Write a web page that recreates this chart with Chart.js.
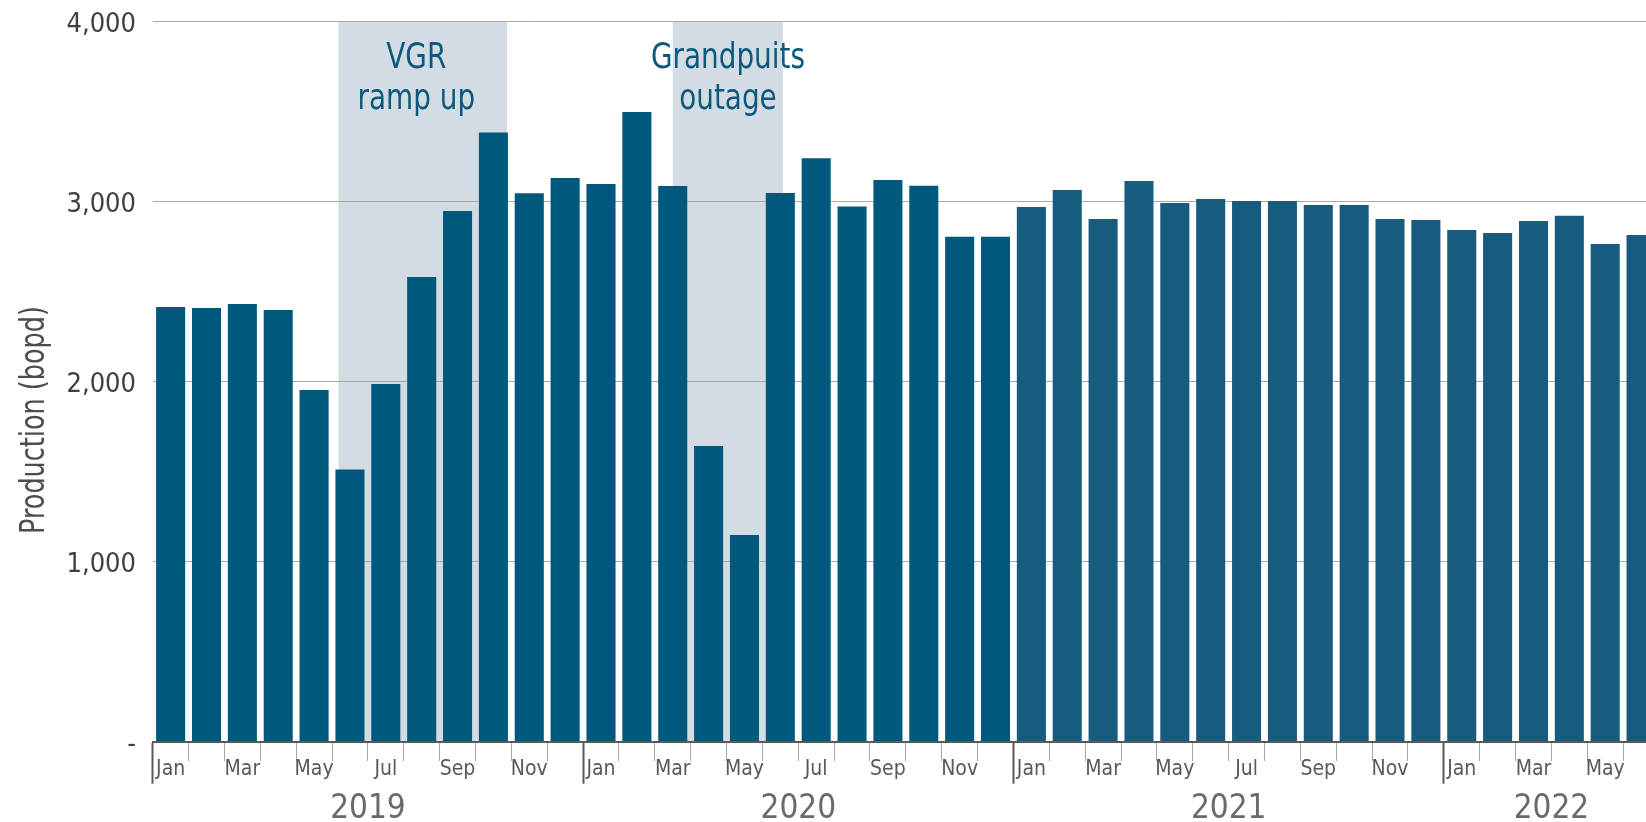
<!DOCTYPE html>
<html>
<head>
<meta charset="utf-8">
<title>Production (bopd)</title>
<script src="https://cdn.jsdelivr.net/npm/chart.js@4.4.1/dist/chart.umd.min.js"></script>
<style>
    html, body { margin: 0; padding: 0; background: #fff; overflow: hidden; }
    #wrap { width: 1659px; height: 822px; }
</style>
</head>
<body>
<div id="wrap"><canvas id="productionChart" width="1659" height="822"></canvas></div>
<script>
// Chart data
const months = ['Jan', 'Feb', 'Mar', 'Apr', 'May', 'Jun', 'Jul', 'Aug', 'Sep', 'Oct', 'Nov', 'Dec'];
const years = ['2019', '2020', '2021', '2022'];
const monthsPerYear = [12, 12, 12, 6];

const production2019 = [2415, 2409, 2431, 2398, 1954, 1512, 1987, 2582, 2948, 3385, 3047, 3131];
const production2020 = [3098, 3498, 3087, 1643, 1148, 3048, 3241, 2974, 3120, 3089, 2805, 2805];
const production2021 = [2971, 3065, 2904, 3115, 2993, 3015, 3004, 3004, 2982, 2982, 2904, 2898];
const production2022 = [2843, 2826, 2893, 2922, 2765, 2815];

const yTicks = [0, 1000, 2000, 3000, 4000];

// Shaded periods, in category units (0 = Jan 2019)
const shadeNames = [['VGR', 'ramp up'], ['Grandpuits', 'outage']];
const shadeStart = [4.68, 14.0];
const shadeEnd = [9.38, 17.07];
const shadeTextAt = [6.85, 15.54];

const production = [].concat(production2019, production2020, production2021, production2022);

// Build category labels and year label positions
let labels = [];
let yearTickText = {};
let start = 0;
years.forEach((year, i) => {
    for (let m = 0; m < monthsPerYear[i]; m++) {
        labels.push(months[m] + ' ' + year);
    }
    yearTickText[start + Math.ceil(monthsPerYear[i] / 2)] = year;
    start += monthsPerYear[i];
});

const FONT = "'Liberation Sans Narrow', 'Arial Narrow', 'DejaVu Sans Condensed', sans-serif";
Chart.defaults.font.family = FONT;

// draw text squeezed horizontally (the original uses a condensed face)
function squeezedText(ctx, text, x, y, sx) {
    ctx.save();
    ctx.translate(x, y);
    ctx.scale(sx, 1);
    ctx.fillText(text, 0, 0);
    ctx.restore();
}

// Shading behind the bars, plus the period notes and the y title
const shadePlugin = {
    id: 'shade',
    beforeDraw(chart) {
        const { ctx, chartArea, scales: { x } } = chart;
        ctx.save();
        ctx.fillStyle = '#d4dce3';
        shadeStart.forEach((s, i) => {
            const x0 = x.getPixelForValue(s);
            const x1 = x.getPixelForValue(shadeEnd[i]);
            ctx.fillRect(x0, chartArea.top, x1 - x0, chartArea.bottom - chartArea.top);
        });
        ctx.restore();
    },
    afterDraw(chart) {
        const { ctx, chartArea, scales: { x } } = chart;
        ctx.save();
        ctx.fillStyle = '#0b5a7e';
        ctx.font = '36px ' + FONT;
        ctx.textAlign = 'center';
        ctx.textBaseline = 'alphabetic';
        shadeNames.forEach((lines, i) => {
            const cx = x.getPixelForValue(shadeTextAt[i]);
            lines.forEach((line, j) => {
                squeezedText(ctx, line, cx, chartArea.top + 46 + j * 41, 0.86);
            });
        });

        // y axis title
        ctx.fillStyle = '#4d4d4d';
        ctx.font = '33px ' + FONT;
        ctx.translate(35, 420);
        ctx.rotate(-Math.PI / 2);
        ctx.textBaseline = 'middle';
        squeezedText(ctx, 'Production (bopd)', 0, 0, 0.86);
        ctx.restore();
    }
};

const ctx = document.getElementById('productionChart').getContext('2d');

new Chart(ctx, {
    type: 'bar',
    data: {
        labels: labels,
        datasets: [{
            label: 'Production (bopd)',
            data: production,
            backgroundColor: (c) => c.dataIndex < 24 ? '#00587c' : '#175c7f',
            borderWidth: 0,
            barPercentage: 0.81,
            categoryPercentage: 1.0
        }]
    },
    options: {
        responsive: false,
        animation: false,
        devicePixelRatio: 1,
        layout: { padding: { top: 21.7, left: 0, right: 0, bottom: 0 } },
        plugins: {
            legend: { display: false },
            tooltip: { enabled: false },
            title: { display: false }
        },
        scales: {
            x: {
                type: 'category',
                position: 'bottom',
                offset: true,
                afterFit: (scale) => { scale.height = 45; },
                grid: {
                    offset: true,
                    drawOnChartArea: false,
                    drawTicks: true,
                    tickLength: 42,
                    tickColor: (c) => (c.index % 12 === 0) ? '#595959' : '#a6a6a6',
                    tickWidth: (c) => (c.index % 12 === 0) ? 2 : 1,
                    tickBorderDash: (c) => (c.index % 12 === 0) ? [] : [18, 100]
                },
                border: { display: true, color: '#595959', width: 2, z: 1 },
                ticks: {
                    autoSkip: false,
                    maxRotation: 0,
                    minRotation: 0,
                    padding: -24.7,
                    color: '#595959',
                    font: { size: 21, lineHeight: 1 },
                    callback: function(value, index) {
                        return index % 2 === 0 ? months[index % 12] : '';
                    }
                }
            },
            x2: {
                type: 'category',
                position: 'bottom',
                offset: true,
                afterFit: (scale) => { scale.height = 35.3; },
                grid: { display: false, drawTicks: false },
                border: { display: false },
                ticks: {
                    autoSkip: false,
                    maxRotation: 0,
                    minRotation: 0,
                    padding: 6.5,
                    labelOffset: -17.9,
                    color: '#6a6a6a',
                    font: { size: 33, lineHeight: 1 },
                    callback: function(value, index) {
                        return yearTickText[index] || '';
                    }
                }
            },
            y: {
                min: yTicks[0],
                max: yTicks[yTicks.length - 1],
                afterFit: (scale) => {
                    scale.width = 152.7;
                    scale.paddingTop = 0;
                    scale.paddingBottom = 0;
                },
                afterBuildTicks: (scale) => {
                    scale.ticks = yTicks.map(v => ({ value: v }));
                },
                grid: {
                    color: '#a8a8a8',
                    lineWidth: 1,
                    drawTicks: false
                },
                border: { display: false },
                ticks: {
                    padding: 16.7,
                    labelOffset: 3,
                    color: '#404040',
                    font: { size: 27, lineHeight: 1 },
                    callback: function(value) {
                        return value === 0 ? '-' : value.toLocaleString('en-US');
                    }
                }
            }
        }
    },
    plugins: [shadePlugin]
});
</script>
</body>
</html>
